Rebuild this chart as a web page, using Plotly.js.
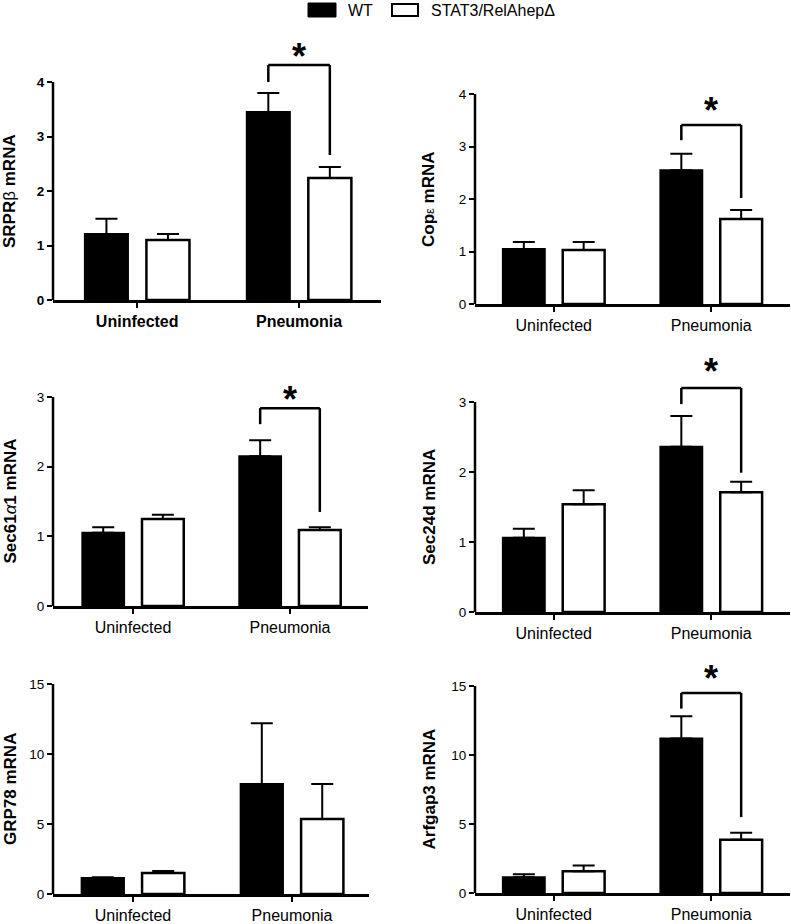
<!DOCTYPE html>
<html><head><meta charset="utf-8">
<script src="https://cdn.plot.ly/plotly-3.0.1.min.js"></script>
<style>html,body{margin:0;padding:0;background:#fff}</style>
</head><body><div id="chart" style="width:791px;height:924px"></div>
<script>
// ---- data ----
const categories = ['Uninfected', 'Pneumonia'];
const seriesNames = ['WT', 'STAT3/RelAhepΔ'];

const srprbWT = [1.21, 3.45], srprbWTsem = [0.28, 0.35];
const srprbKO = [1.10, 2.24], srprbKOsem = [0.11, 0.20];
const srprbTicks = [0, 1, 2, 3, 4];
const srprbBracket = [4.0, 4.31, 2.66, 4.64]; // left foot, top, right foot, star

const copeWT = [1.05, 2.55], copeWTsem = [0.13, 0.31];
const copeKO = [1.03, 1.62], copeKOsem = [0.15, 0.17];
const copeTicks = [0, 1, 2, 3, 4];
const copeBracket = [3.12, 3.41, 2.02, 3.85];

const sec61WT = [1.05, 2.15], sec61WTsem = [0.08, 0.23];
const sec61KO = [1.25, 1.09], sec61KOsem = [0.06, 0.04];
const sec61Ticks = [0, 1, 2, 3];
const sec61Bracket = [2.61, 2.84, 1.35, 3.10];

const sec24WT = [1.06, 2.36], sec24WTsem = [0.13, 0.44];
const sec24KO = [1.54, 1.71], sec24KOsem = [0.20, 0.15];
const sec24Ticks = [0, 1, 2, 3];
const sec24Bracket = [2.97, 3.20, 1.99, 3.56];

const grp78WT = [1.14, 7.86], grp78WTsem = [0.06, 4.34];
const grp78KO = [1.50, 5.36], grp78KOsem = [0.14, 2.50];
const grp78Ticks = [0, 5, 10, 15];
const grp78Bracket = null;

const arfWT = [1.14, 11.2], arfWTsem = [0.22, 1.6];
const arfKO = [1.57, 3.86], arfKOsem = [0.43, 0.50];
const arfTicks = [0, 5, 10, 15];
const arfBracket = [13.36, 14.5, 5.5, 16.2];

const yTitles = [
  'SRPR<span style="font-weight:normal">β</span> mRNA',
  'Cop<span style="font-weight:normal;font-size:13px">ε</span> mRNA',
  'Sec61<span style="font-weight:normal;font-style:italic">α</span>1 mRNA',
  'Sec24d mRNA',
  'GRP78 mRNA',
  'Arfgap3 mRNA'
];

// ---- layout geometry (pixels) ----
const W = 791, H = 924;
const panels = [
  {wt: srprbWT, wtSem: srprbWTsem, ko: srprbKO, koSem: srprbKOsem, ticks: srprbTicks, br: srprbBracket, bold: true,
   box: [53, 381, 300, 82, 40], xr: [-0.52, 1.506], tx: 10},
  {wt: copeWT, wtSem: copeWTsem, ko: copeKO, koSem: copeKOsem, ticks: copeTicks, br: copeBracket, bold: false,
   box: [475, 790, 304, 94, 80], xr: [-0.5, 1.5], tx: 429},
  {wt: sec61WT, wtSem: sec61WTsem, ko: sec61KO, koSem: sec61KOsem, ticks: sec61Ticks, br: sec61Bracket, bold: false,
   box: [53, 368, 606, 397, 370], xr: [-0.51, 1.497], tx: 10},
  {wt: sec24WT, wtSem: sec24WTsem, ko: sec24KO, koSem: sec24KOsem, ticks: sec24Ticks, br: sec24Bracket, bold: false,
   box: [475, 790, 612, 402, 350], xr: [-0.5, 1.5], tx: 429},
  {wt: grp78WT, wtSem: grp78WTsem, ko: grp78KO, koSem: grp78KOsem, ticks: grp78Ticks, br: grp78Bracket, bold: false,
   box: [53, 369, 894, 684, 660], xr: [-0.503, 1.484], tx: 10},
  {wt: arfWT, wtSem: arfWTsem, ko: arfKO, koSem: arfKOsem, ticks: arfTicks, br: arfBracket, bold: false,
   box: [475, 790, 893, 686, 658], xr: [-0.5, 1.5], tx: 429}
];

const bargap = 0.24, bargroupgap = 0.3;
const off = (1 - bargap) / 4;
const FONT = 'Liberation Sans, Arial, Helvetica, sans-serif';

const data = [];
const layout = {
  width: W, height: H, margin: {l: 0, r: 0, t: 0, b: 0},
  showlegend: false, barmode: 'group', bargap: bargap, bargroupgap: bargroupgap,
  paper_bgcolor: '#fff', plot_bgcolor: '#fff',
  font: {family: FONT, color: '#000'},
  shapes: [], annotations: []
};

panels.forEach((p, i) => {
  const s = i === 0 ? '' : String(i + 1);
  const xa = 'x' + s, ya = 'y' + s;
  const [x0, x1, zero, tickTopPx, topPx] = p.box;
  const top = p.ticks[p.ticks.length - 1];
  const ymax = top * (zero - topPx) / (zero - tickTopPx);
  const fw = p.bold ? 'bold' : 'normal';
  const err = (arr) => ({type: 'data', symmetric: false, array: arr, arrayminus: arr.map(() => 0),
                          color: '#000', thickness: 2, width: 11});
  data.push({type: 'bar', x: categories, y: p.wt, xaxis: xa, yaxis: ya, name: seriesNames[0],
             marker: {color: '#000', line: {color: '#000', width: 2}}, error_y: err(p.wtSem)});
  data.push({type: 'bar', x: categories, y: p.ko, xaxis: xa, yaxis: ya, name: seriesNames[1],
             marker: {color: '#fff', line: {color: '#000', width: 2.5}}, error_y: err(p.koSem)});

  layout['xaxis' + s] = {
    type: 'category', domain: [x0 / W, x1 / W], range: p.xr, anchor: ya,
    showline: true, linewidth: 2.5, linecolor: '#000',
    ticks: 'outside', ticklen: 5, tickwidth: 2, tickcolor: '#000',
    tickfont: {size: 16, weight: fw, family: FONT}, showgrid: false, zeroline: false
  };
  layout['yaxis' + s] = {
    domain: [1 - zero / H, 1 - topPx / H], range: [0, ymax], anchor: xa,
    showline: false, tickvals: p.ticks, ticks: 'outside', ticklen: 5, tickwidth: 2, tickcolor: '#000',
    tickfont: {size: 13.5, weight: fw, family: FONT}, showgrid: false, zeroline: false
  };
  // y axis line (only up to the last tick)
  layout.shapes.push({type: 'line', xref: xa + ' domain', yref: ya, x0: 0, x1: 0, y0: 0, y1: top,
                      line: {color: '#000', width: 2.5}});
  // y title
  layout.annotations.push({xref: 'paper', yref: ya, x: p.tx / W, y: top / 2, text: yTitles[i],
    textangle: -90, showarrow: false, xanchor: 'center', yanchor: 'middle',
    font: {size: 17, weight: 'bold', family: FONT}});
  // significance bracket
  if (p.br) {
    const [lf, bt, rf, st] = p.br;
    const lx = 1 - off, rx = 1 + off;
    const ln = {color: '#000', width: 2.5};
    layout.shapes.push({type: 'line', xref: xa, yref: ya, x0: lx, x1: lx, y0: lf, y1: bt, line: ln});
    layout.shapes.push({type: 'line', xref: xa, yref: ya, x0: lx, x1: rx, y0: bt, y1: bt, line: ln});
    layout.shapes.push({type: 'line', xref: xa, yref: ya, x0: rx, x1: rx, y0: bt, y1: rf, line: ln});
    layout.annotations.push({xref: xa, yref: ya, x: 1, y: st, text: '*', showarrow: false,
      xanchor: 'center', yanchor: 'middle', yshift: -9, font: {size: 36, weight: 'bold', family: FONT}});
  }
});

// legend (drawn at top centre)
layout.shapes.push({type: 'rect', xref: 'paper', yref: 'paper', x0: 308 / W, x1: 336 / W,
  y0: 1 - 17 / H, y1: 1 - 3 / H, fillcolor: '#000', line: {color: '#000', width: 1}});
layout.shapes.push({type: 'rect', xref: 'paper', yref: 'paper', x0: 392 / W, x1: 418 / W,
  y0: 1 - 16 / H, y1: 1 - 4 / H, fillcolor: '#fff', line: {color: '#000', width: 2}});
layout.annotations.push({xref: 'paper', yref: 'paper', x: 346 / W, y: 1 - 10 / H, text: seriesNames[0],
  showarrow: false, xanchor: 'left', yanchor: 'middle', font: {size: 16, family: FONT}});
layout.annotations.push({xref: 'paper', yref: 'paper', x: 429 / W, y: 1 - 10 / H, text: seriesNames[1],
  showarrow: false, xanchor: 'left', yanchor: 'middle', font: {size: 16, family: FONT}});

Plotly.newPlot('chart', data, layout, {staticPlot: true, displayModeBar: false});
</script>
</body></html>
